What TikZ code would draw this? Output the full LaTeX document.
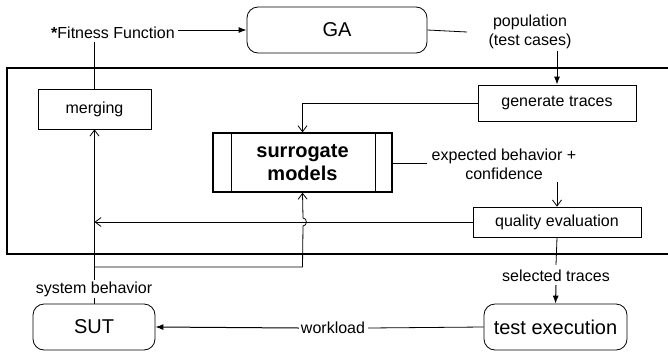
\documentclass[tikz,border=0pt]{standalone}
\usepackage{fontspec}
\setmainfont{Liberation Sans}
\usetikzlibrary{arrows.meta}
\begin{document}
\begin{tikzpicture}[x=1pt,y=-1pt,
  lbl/.style={font=\fontsize{16}{19}\selectfont, inner sep=0pt, align=center},
  big/.style={font=\fontsize{20}{23}\selectfont},
  rbox/.style={draw, rounded corners=11pt, line width=0.8pt, inner sep=0pt},
  sbox/.style={draw, line width=0.8pt},
  fa/.style={-{Latex[length=8pt,width=6pt]}, line width=1pt},
  oa/.style={-{Straight Barb[length=6pt,width=9pt]}, line width=0.8pt},
  ln/.style={line width=0.8pt}]
\useasboundingbox (0,0) rectangle (668,351);
% outer frame (open on the right, cut by the page edge)
\draw[line width=1.3pt] (669,68) -- (7,68) -- (7,254) -- (669,254);

% nodes
\node[rbox, big, minimum width=180pt, minimum height=46pt] (ga) at (337,30) {GA};
\node[lbl] (fit) at (113,33) {\textbf{*}Fitness Function};
\node[sbox, lbl, minimum width=113pt, minimum height=40pt] (merge) at (94.5,109) {merging};
\node[sbox, lbl, minimum width=158pt, minimum height=36pt] (gen) at (557,103) {generate traces};
\node[lbl] (pop) at (530,32) {population\\(test cases)};
\node[draw, line width=1.3pt, minimum width=179pt, minimum height=59pt, inner sep=0pt,
      font=\fontsize{20}{23}\selectfont\bfseries, align=center] (sur) at (302.5,162.5) {surrogate\\models};
\draw[line width=1.3pt] ([xshift=19pt]sur.north west) -- ([xshift=19pt]sur.south west);
\draw[line width=1.3pt] ([xshift=-17pt]sur.north east) -- ([xshift=-17pt]sur.south east);
\node[lbl] (exp) at (504,164) {expected behavior +\\confidence};
\node[sbox, lbl, minimum width=168pt, minimum height=30pt] (qual) at (557,222) {quality evaluation};
\node[rbox, big, minimum width=122pt, minimum height=46pt] (sut) at (94,327) {SUT};
\node[rbox, big, minimum width=143pt, minimum height=46pt] (test) at (555.5,327) {test execution};
\node[lbl] (sel) at (556,276) {selected traces};
\node[lbl] (wl) at (333,328) {workload};

\coordinate (popend) at (467,32);
\coordinate (expend) at (427,163);
\coordinate (br) at (94,267);

% connectors
\draw[fa] (fit.east -| fit.east) ++(3pt,0) coordinate (fitA) (fitA |- ga.west) -- (ga.west);
\draw[ln] ([yshift=-3pt]fit.south -| merge) -- (merge.north);
\draw[ln] (ga.east) -- (popend);
\draw[fa] ([yshift=-2pt]pop.south -| gen) -- (gen.north);
\draw[oa] (gen.west) -- (gen.west -| sur) -- (sur.north);
\draw[ln] (sur.east |- expend) -- (expend);
\draw[oa] ([yshift=-2pt]exp.south -| qual) -- (qual.north);
\draw[oa] (qual.west) -- (qual.west -| merge);
\draw[oa] (sut.north -| merge) -- (merge.south);
\draw[oa] (br -| merge) -- (br -| sur) -- (303,226)
  .. controls (307.5,226) and (307.5,218) .. (303,218) -- (sur.south);
\node[lbl, fill=white, inner sep=2pt] (sys) at (94,289) {system behavior};
\draw[ln] (qual.south) -- ([yshift=5pt]sel.north);
\draw[fa] ([yshift=-3pt]sel.south) -- (test.north);
\draw[ln] (test.west) -- ([xshift=3pt]wl.east);
\draw[fa] ([xshift=-2pt]wl.west) -- (sut.east);
\end{tikzpicture}
\end{document}
